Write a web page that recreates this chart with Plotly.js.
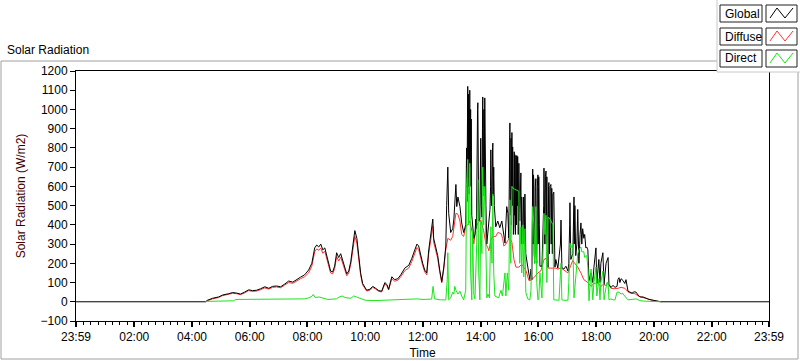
<!DOCTYPE html>
<html><head><meta charset="utf-8">
<script src="https://cdn.plot.ly/plotly-3.0.1.min.js"></script>
<style>html,body{margin:0;padding:0;background:#fff}#chart{width:800px;height:361px}</style>
</head><body><div id="chart"></div>
<script>
// ---- data (decimal hours, W/m2) ----
const xTickVals = [-0.0167, 2, 4, 6, 8, 10, 12, 14, 16, 18, 20, 22, 23.983];
const xTickText = ['23:59','02:00','04:00','06:00','08:00','10:00','12:00','14:00','16:00','18:00','20:00','22:00','23:59'];

const timeGlobal = [-0.0167, 4.47, 4.54, 4.71, 4.92, 5.06, 5.27, 5.41, 5.55, 5.68,
 5.82, 5.96, 6.10, 6.24, 6.38, 6.52, 6.66, 6.79, 6.93, 7.07,
 7.21, 7.35, 7.49, 7.63, 7.76, 7.90, 8.04, 8.15, 8.25, 8.32,
 8.39, 8.46, 8.53, 8.60, 8.67, 8.73, 8.80, 8.87, 8.94, 9.01,
 9.08, 9.15, 9.22, 9.29, 9.36, 9.43, 9.50, 9.57, 9.64, 9.71,
 9.77, 9.84, 9.91, 9.98, 10.05, 10.16, 10.26, 10.36, 10.47, 10.57,
 10.68, 10.75, 10.81, 10.92, 11.02, 11.13, 11.23, 11.37, 11.51, 11.61,
 11.72, 11.79, 11.85, 11.92, 11.99, 12.06, 12.13, 12.20, 12.27, 12.34,
 12.37, 12.44, 12.51, 12.58, 12.65, 12.72, 12.79, 12.82, 12.86, 12.89,
 12.96, 13.03, 13.07, 13.14, 13.17, 13.21, 13.28, 13.34, 13.41,
 13.48, 13.51, 13.52, 13.53, 13.55, 13.56, 13.57, 13.58, 13.59, 13.60,
 13.62, 13.63, 13.65, 13.66, 13.67, 13.69, 13.72, 13.76, 13.80, 13.83,
 13.85, 13.86, 13.87, 13.89, 13.90, 13.91, 13.92, 13.93, 13.97, 13.99,
 14.00, 14.02, 14.04, 14.06, 14.07, 14.08, 14.10, 14.11, 14.12, 14.14,
 14.15, 14.16, 14.18, 14.21, 14.25, 14.28, 14.32, 14.34, 14.35, 14.37,
 14.39, 14.41, 14.42, 14.43, 14.45, 14.47, 14.49, 14.52, 14.59, 14.66,
 14.73, 14.80, 14.84, 14.90, 14.94, 14.97, 15.00, 15.01, 15.02, 15.04,
 15.05, 15.06, 15.08, 15.09, 15.10, 15.11, 15.13, 15.15, 15.16, 15.17,
 15.18, 15.20, 15.22, 15.24, 15.25, 15.27, 15.28, 15.30, 15.32, 15.35,
 15.37, 15.39, 15.41, 15.42, 15.44, 15.46, 15.48, 15.49, 15.51, 15.53,
 15.56, 15.60, 15.63, 15.70, 15.74, 15.77, 15.80, 15.81, 15.82, 15.84,
 15.85, 15.87, 15.89, 15.91, 15.92, 15.94, 15.96, 15.98, 15.99, 16.01,
 16.03, 16.05, 16.12, 16.18, 16.19, 16.20, 16.22, 16.24, 16.26, 16.27,
 16.29, 16.31, 16.33, 16.35, 16.36, 16.38, 16.40, 16.43, 16.44, 16.46,
 16.48, 16.50, 16.53, 16.57, 16.60, 16.67, 16.71, 16.76, 16.78, 16.81,
 16.88, 16.95, 17.02, 17.05, 17.08, 17.09, 17.11, 17.12, 17.19, 17.21,
 17.23, 17.24, 17.26, 17.29, 17.33, 17.36, 17.38, 17.40, 17.44, 17.47,
 17.50, 17.53, 17.57, 17.60, 17.64, 17.67, 17.71, 17.75,
 17.82, 17.88, 17.92, 17.99, 18.02, 18.09, 18.13, 18.16, 18.23, 18.27,
 18.34, 18.41, 18.44, 18.51, 18.58, 18.65, 18.72, 18.75, 18.79, 18.82,
 18.86, 18.93, 18.99, 19.03, 19.10, 19.17, 19.24, 19.31, 19.38, 19.45,
 19.52, 19.62, 19.72, 19.83, 19.97, 20.07, 20.17, 20.24, 23.983];
const globalRad = [0, 0, 8, 18, 25, 35, 42, 48, 45, 40,
 50, 62, 58, 60, 68, 78, 70, 80, 82, 78,
 92, 108, 102, 118, 128, 140, 165, 200, 280, 295,
 285, 300, 270, 280, 240, 195, 160, 155, 185, 255,
 230, 250, 210, 170, 145, 160, 210, 290, 370, 330,
 240, 150, 95, 75, 60, 65, 80, 70, 58, 55,
 100, 90, 65, 130, 115, 120, 140, 175, 190, 225,
 270, 300, 290, 240, 200, 165, 150, 270, 360, 430,
 330, 280, 240, 165, 105, 180, 290, 500, 700, 460,
 360, 380, 430, 610, 495, 545, 495, 410, 360,
 400, 800, 520, 1050, 1120, 650, 1080, 600, 1000, 560,
 1100, 700, 1000, 600, 950, 450, 400, 330, 350, 430,
 380, 700, 500, 1000, 1035, 600, 950, 420, 430, 600,
 850, 500, 440, 900, 1065, 600, 700, 1000, 550, 1060,
 700, 950, 500, 300, 360, 410, 480, 600, 790, 500,
 560, 800, 825, 550, 700, 500, 410, 390, 420, 385,
 420, 360, 305, 495, 460, 330, 700, 930, 450, 500,
 850, 400, 880, 500, 800, 805, 350, 400, 780, 450,
 765, 350, 760, 400, 760, 500, 755, 350, 720, 420,
 650, 670, 300, 545, 350, 300, 540, 545, 300, 560,
 250, 220, 180, 115, 170, 115, 690, 300, 660, 635,
 250, 200, 600, 640, 250, 200, 600, 660, 300, 650,
 400, 185, 185, 500, 695, 350, 300, 650, 680, 300,
 650, 250, 180, 600, 620, 250, 600, 610, 300, 590,
 250, 560, 570, 180, 220, 175, 250, 300, 425, 178,
 170, 185, 160, 200, 400, 515, 300, 220, 250, 400,
 545, 300, 500, 240, 300, 480, 250, 200, 350, 410,
 300, 380, 330, 350, 280, 285, 270, 110,
 150, 100, 180, 280, 95, 220, 100, 200, 255, 90,
 200, 230, 90, 75, 85, 75, 80, 115, 125, 100,
 120, 110, 95, 115, 55, 50, 45, 52, 50, 35,
 25, 25, 18, 12, 8, 5, 2, 0, 0];

const timeDiffuse = [4.47, 4.54, 4.71, 4.92, 5.06, 5.27, 5.41, 5.55, 5.68, 5.82,
 5.96, 6.10, 6.24, 6.38, 6.52, 6.66, 6.79, 6.93, 7.07, 7.21,
 7.35, 7.49, 7.63, 7.76, 7.90, 8.04, 8.15, 8.25, 8.32, 8.39,
 8.46, 8.53, 8.60, 8.67, 8.73, 8.80, 8.87, 8.94, 9.01, 9.08,
 9.15, 9.22, 9.29, 9.36, 9.43, 9.50, 9.57, 9.64, 9.71, 9.77,
 9.84, 9.91, 9.98, 10.05, 10.16, 10.26, 10.36, 10.47, 10.57, 10.68,
 10.75, 10.81, 10.92, 11.02, 11.13, 11.23, 11.37, 11.51, 11.61, 11.72,
 11.79, 11.85, 11.92, 11.99, 12.06, 12.13, 12.20, 12.27, 12.34, 12.37,
 12.44, 12.51, 12.58, 12.65, 12.72, 12.79, 12.86, 12.96, 13.03, 13.07,
 13.14, 13.21, 13.28, 13.34, 13.41, 13.48, 13.55, 13.62, 13.65, 13.72,
 13.76, 13.83, 13.90, 14.00, 14.10, 14.18, 14.25, 14.28, 14.35, 14.42,
 14.52, 14.59, 14.70, 14.76, 14.80, 14.87, 14.94, 15.01, 15.08, 15.11,
 15.15, 15.22, 15.32, 15.42, 15.56, 15.67, 15.74, 15.84, 15.98, 16.08,
 16.19, 16.26, 16.33, 16.43, 16.53, 16.60, 16.67, 16.78, 16.88, 17.02,
 17.12, 17.19, 17.23, 17.36, 17.47, 17.57, 17.71, 17.82, 17.92, 18.06,
 18.16, 18.23, 18.34, 18.41, 18.51, 18.62, 18.75, 18.86, 18.99, 19.10,
 19.20, 19.34, 19.48, 19.65, 19.83, 19.97, 20.10, 20.24];
const diffuseRad = [0, 6, 15, 22, 32, 38, 44, 42, 37, 46,
 58, 54, 56, 63, 72, 66, 75, 77, 73, 87,
 100, 96, 110, 120, 130, 150, 185, 260, 275, 268,
 280, 252, 262, 225, 182, 150, 145, 172, 235, 212,
 232, 196, 158, 135, 150, 195, 268, 340, 305, 222,
 140, 88, 70, 56, 60, 75, 66, 54, 51, 93,
 84, 61, 120, 107, 112, 130, 162, 176, 208, 252,
 282, 272, 225, 188, 155, 140, 250, 330, 395, 310,
 265, 225, 155, 98, 170, 270, 330, 320, 340, 380,
 460, 455, 420, 350, 340, 390, 400, 420, 400, 350,
 300, 380, 410, 425, 370, 300, 280, 265, 320, 340,
 340, 360, 355, 330, 290, 300, 320, 330, 310, 255,
 220, 180, 180, 195, 165, 110, 112, 125, 150, 160,
 220, 225, 175, 175, 175, 175, 170, 175, 165, 150,
 190, 215, 205, 180, 150, 115, 100, 80, 95, 100,
 78, 90, 85, 95, 70, 68, 70, 75, 70, 52,
 44, 42, 28, 20, 11, 7, 3, 0];

const timeDirect = [4.47, 5.00, 5.45, 5.50, 6.00, 7.00, 7.50, 7.90, 8.04, 8.15,
 8.20, 8.27, 8.40, 8.55, 8.70, 9.00, 9.10, 9.20, 9.30, 9.50,
 9.60, 9.70, 9.90, 10.00, 10.30, 10.60, 11.00, 11.50, 11.80, 12.00,
 12.30, 12.35, 12.40, 12.60, 12.79, 12.84, 12.86, 12.89, 12.96, 13.03,
 13.07, 13.10, 13.14, 13.21, 13.28, 13.34, 13.41, 13.48, 13.51, 13.55,
 13.58, 13.62, 13.65, 13.69, 13.72, 13.76, 13.80, 13.86, 13.90, 13.93,
 13.97, 14.00, 14.04, 14.07, 14.10, 14.14, 14.18, 14.21, 14.25, 14.30,
 14.35, 14.39, 14.42, 14.45, 14.49, 14.55, 14.62, 14.70, 14.75, 14.84,
 14.87, 14.92, 14.97, 15.01, 15.04, 15.08, 15.11, 15.18, 15.25, 15.32,
 15.35, 15.39, 15.42, 15.46, 15.49, 15.53, 15.56, 15.63, 15.70, 15.74,
 15.80, 15.84, 15.87, 15.91, 15.94, 15.98, 16.01, 16.05, 16.12, 16.19,
 16.22, 16.26, 16.29, 16.33, 16.40, 16.46, 16.50, 16.53, 16.57, 16.67,
 16.71, 16.78, 16.81, 16.88, 16.95, 17.02, 17.05, 17.09, 17.12, 17.19,
 17.23, 17.29, 17.36, 17.40, 17.47, 17.50, 17.57, 17.60, 17.67, 17.71,
 17.75, 17.82, 17.88, 17.92, 17.99, 18.02, 18.09, 18.13, 18.16, 18.23,
 18.27, 18.30, 18.37, 18.41, 18.44, 18.51, 18.58, 18.65, 18.72, 18.79,
 18.86, 18.90, 18.96, 19.03, 19.10, 19.24, 19.38, 19.45, 19.55, 19.70,
 20.00, 20.24];
const directRad = [2, 5, 5, 12, 12, 12, 12, 15, 20, 28,
 38, 22, 25, 20, 12, 15, 25, 30, 22, 18,
 30, 25, 14, 8, 6, 8, 10, 12, 15, 12,
 14, 80, 15, 10, 10, 115, 255, 10, 20, 50,
 40, 80, 60, 40, 55, 30, 10, 60, 600, 740,
 400, 720, 150, 10, 370, 40, 15, 300, 635, 150,
 10, 420, 250, 700, 400, 600, 100, 20, 40, 20,
 390, 200, 560, 150, 30, 25, 20, 60, 30, 150,
 30, 150, 60, 530, 200, 600, 590, 585, 580, 575,
 200, 390, 150, 400, 130, 380, 50, 15, 10, 60,
 495, 400, 200, 495, 100, 10, 15, 150, 20, 460,
 350, 450, 100, 440, 430, 410, 400, 10, 10, 8,
 8, 200, 10, 8, 10, 8, 100, 305, 280, 300,
 20, 120, 250, 270, 285, 260, 260, 230, 240, 180,
 5, 170, 10, 100, 180, 30, 120, 10, 100, 160,
 10, 40, 100, 100, 10, 15, 10, 10, 50, 50,
 40, 45, 35, 20, 10, 12, 15, 10, 5, 3,
 3, 0];

const seriesNames = ['Global', 'Diffuse', 'Direct'];
const seriesColors = ['#000000', '#ff3333', '#19e619'];

// ---- layout helpers (pixel -> paper) ----
const PL = 76, PR = 769, PT = 71, PB = 321;
const px = x => (x - PL) / (PR - PL);
const py = y => (PB - y) / (PB - PT);
const FONT = 'Liberation Sans, Arial, sans-serif';

const traces = [
  {x: timeDiffuse, y: diffuseRad, name: seriesNames[1], type: 'scatter', mode: 'lines',
   line: {color: seriesColors[1], width: 1}},
  {x: timeGlobal, y: globalRad, name: seriesNames[0], type: 'scatter', mode: 'lines',
   line: {color: seriesColors[0], width: 1}},
  {x: timeDirect, y: directRad, name: seriesNames[2], type: 'scatter', mode: 'lines',
   line: {color: seriesColors[2], width: 1}}
];

const shapes = [];
const annotations = [];
// outer frame
shapes.push({type: 'rect', xref: 'paper', yref: 'paper', x0: px(1), x1: px(798), y0: py(359), y1: py(61),
  line: {color: '#a0a0a0', width: 1}, fillcolor: 'rgba(0,0,0,0)', layer: 'below'});
// legend panel
shapes.push({type: 'rect', xref: 'paper', yref: 'paper', x0: px(717), x1: px(801), y0: py(72), y1: py(-1),
  line: {color: '#c8c8c8', width: 1}, fillcolor: '#ffffff', layer: 'above'});
const legRows = [[5, 22], [28, 45], [50, 67]];
legRows.forEach((r, i) => {
  shapes.push({type: 'rect', xref: 'paper', yref: 'paper', x0: px(720), x1: px(762), y0: py(r[1]), y1: py(r[0]),
    line: {color: '#202020', width: 1}, fillcolor: '#ffffff', layer: 'above'});
  shapes.push({type: 'rect', xref: 'paper', yref: 'paper', x0: px(766), x1: px(797), y0: py(r[1]), y1: py(r[0]),
    line: {color: '#202020', width: 1}, fillcolor: '#ffffff', layer: 'above'});
  const y0 = r[0], y1 = r[1];
  const pts = [[770, y1 - 4], [777, y0 + 3], [785, y1 - 4], [793, y0 + 3]];
  const path = 'M ' + pts.map(p => px(p[0]) + ',' + py(p[1])).join(' L ');
  shapes.push({type: 'path', xref: 'paper', yref: 'paper', path: path,
    line: {color: seriesColors[i], width: 1}, layer: 'above'});
  annotations.push({xref: 'paper', yref: 'paper', x: px(723), y: py((y0 + y1) / 2), xanchor: 'left', yanchor: 'middle',
    text: seriesNames[i], showarrow: false, font: {family: FONT, size: 12, color: '#000'}});
});
// chart label
annotations.push({xref: 'paper', yref: 'paper', x: px(5), y: py(50), xanchor: 'left', yanchor: 'middle',
  text: 'Solar Radiation', showarrow: false, font: {family: FONT, size: 12, color: '#000'}});

const layout = {
  width: 800, height: 361,
  margin: {l: PL, r: 800 - PR, t: PT, b: 361 - PB, pad: 0},
  paper_bgcolor: '#ffffff', plot_bgcolor: '#ffffff',
  showlegend: false,
  font: {family: FONT, size: 12, color: '#000'},
  xaxis: {
    range: [-0.0167, 23.983], tickmode: 'array', tickvals: xTickVals, ticktext: xTickText,
    ticks: 'outside', ticklen: 5, tickwidth: 2, tickcolor: '#000',
    minor: {tick0: 0, dtick: 0.25, ticks: 'outside', ticklen: 3, tickwidth: 1, tickcolor: '#000', showgrid: false},
    showline: true, linecolor: '#000', linewidth: 1, mirror: true,
    showgrid: false, zeroline: false, automargin: false,
    tickfont: {family: FONT, size: 12, color: '#000'},
    title: {text: 'Time', font: {family: FONT, size: 12, color: '#000'}, standoff: 5}
  },
  yaxis: {
    range: [-100, 1200], tickmode: 'linear', tick0: -100, dtick: 100,
    ticks: 'outside', ticklen: 5, tickwidth: 1, tickcolor: '#000',
    showline: true, linecolor: '#000', linewidth: 1, mirror: true,
    showgrid: false, zeroline: false, automargin: false,
    tickfont: {family: FONT, size: 12, color: '#000'},
    title: {text: 'Solar Radiation (W/m2)', font: {family: FONT, size: 12, color: '#400000'}, standoff: 12}
  },
  shapes: shapes,
  annotations: annotations
};

Plotly.newPlot('chart', traces, layout, {displayModeBar: false, staticPlot: true});
</script>
</body></html>
